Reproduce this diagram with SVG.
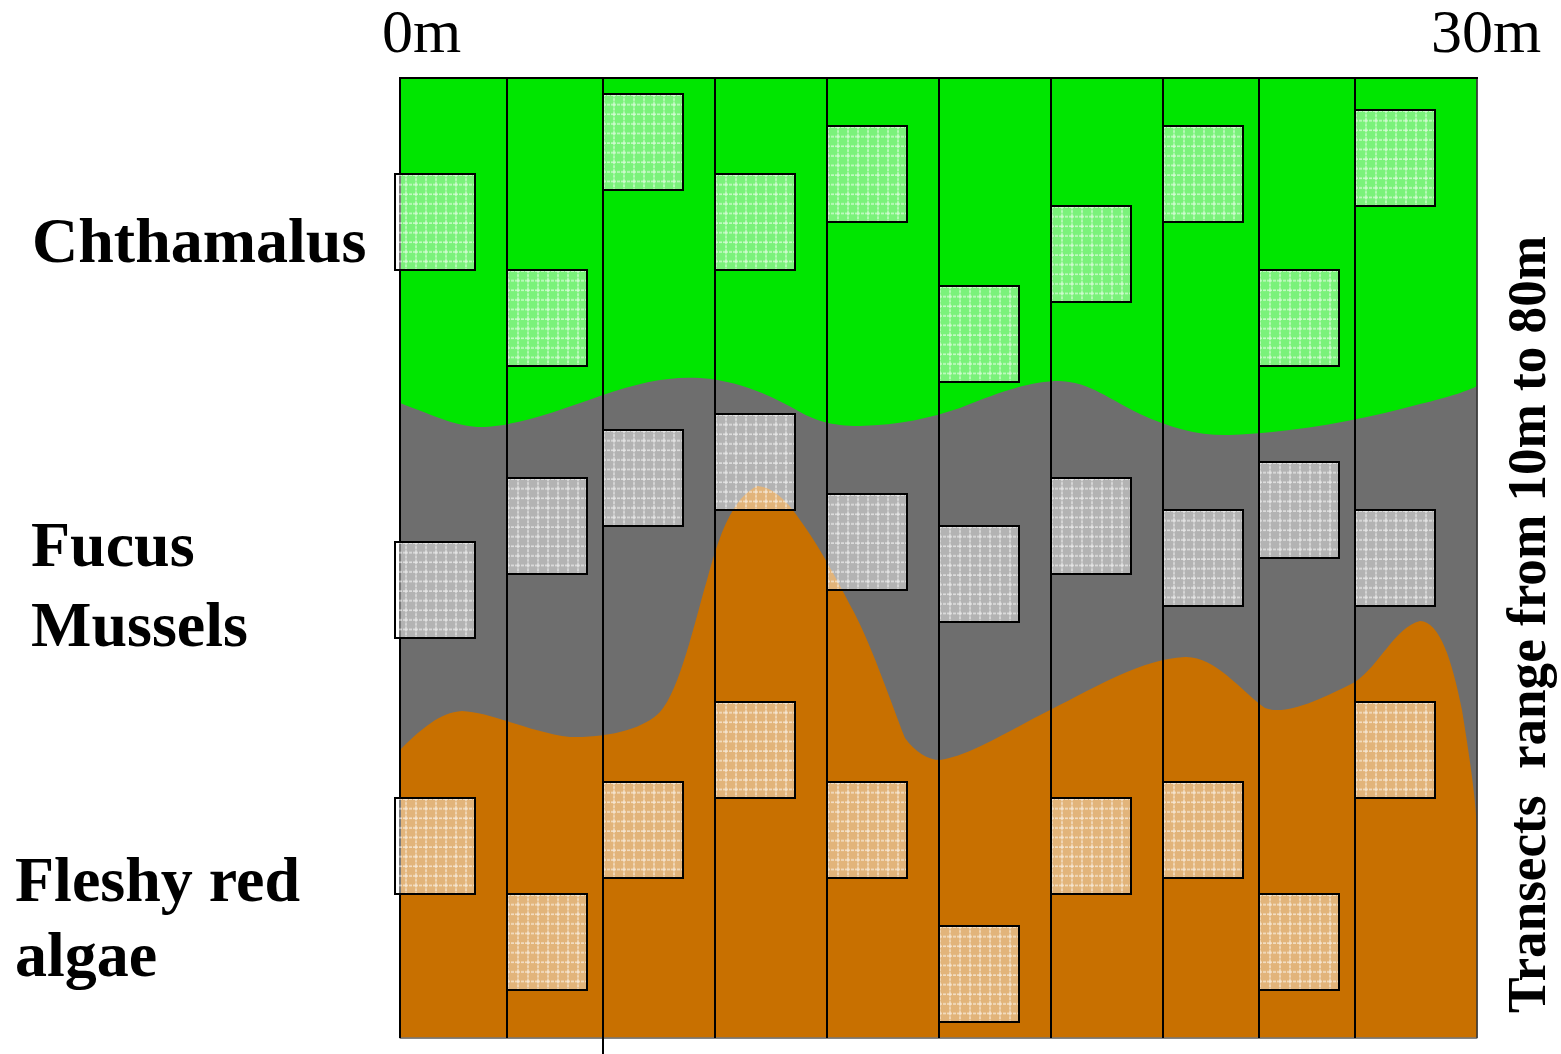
<svg xmlns="http://www.w3.org/2000/svg" width="1561" height="1054" viewBox="0 0 1561 1054">
<style>
.lbl{font-family:"Liberation Serif","Times New Roman",serif;font-weight:bold;font-size:64px;fill:#000}
.scale{font-family:"Liberation Serif","Times New Roman",serif;font-size:62px;fill:#000}
.q{fill:url(#grid);stroke:#000;stroke-width:2}
.tr{stroke:#000;stroke-width:2;fill:none}
</style>
<defs>
<pattern id="grid" patternUnits="objectBoundingBox" width="0.125" height="0.1">
<rect x="0" y="0" width="10" height="9.6" fill="#fff" fill-opacity="0.48"/>
<path d="M1,0 V9.6 M0,1 H10" stroke="#fff" stroke-opacity="0.75" stroke-width="1.2" stroke-dasharray="3 1"/>
</pattern>
</defs>
<rect width="1561" height="1054" fill="#fff"/>
<g id="zones">
<rect x="400" y="78" width="1077" height="960" fill="#00e600" stroke="#555" stroke-width="1"/>
<path id="gray-zone" fill="#6e6e6e" d="M400,403 C440,418 460,428 485,427 C520,425 560,410 600,396 C640,382 670,376 700,378 C740,381 770,395 800,412 C815,420 830,426 860,426 C900,425 930,418 960,408 C1000,392 1030,381 1060,381 C1090,382 1110,400 1140,414 C1170,428 1200,436 1230,435 C1300,432 1360,420 1420,404 C1450,397 1470,390 1477,386 L1477,1038 L400,1038 Z"/>
<path id="orange-zone" fill="#c87000" d="M400,750 C420,730 440,712 462,711 C490,712 530,732 570,737 C610,738 645,728 660,712 C680,690 695,620 707,580 C718,540 730,500 757,486 C775,487 790,505 800,520 C815,540 835,575 850,605 C870,640 890,700 905,738 C915,752 928,760 940,760 C970,756 1010,730 1050,710 C1100,685 1140,660 1185,657 C1215,656 1240,690 1265,708 C1285,716 1320,700 1355,682 C1380,665 1395,627 1420,621 C1440,622 1452,660 1462,710 C1470,760 1476,800 1477,832 L1477,1038 L400,1038 Z"/>
<line x1="400" y1="1038" x2="1477" y2="1038" stroke="#777" stroke-width="1.5"/>
<line x1="1477" y1="78" x2="1477" y2="1038" stroke="#333" stroke-width="1.5"/>
</g>
<g id="connectors">
<line class="tr" x1="399" y1="78" x2="1478" y2="78"/>
<line class="tr" x1="400" y1="78" x2="400" y2="1038"/>
<line class="tr" x1="507" y1="78" x2="507" y2="1038"/>
<line class="tr" x1="603" y1="78" x2="603" y2="1054"/>
<line class="tr" x1="715" y1="78" x2="715" y2="1038"/>
<line class="tr" x1="827" y1="78" x2="827" y2="1038"/>
<line class="tr" x1="939" y1="78" x2="939" y2="1038"/>
<line class="tr" x1="1051" y1="78" x2="1051" y2="1038"/>
<line class="tr" x1="1163" y1="78" x2="1163" y2="1038"/>
<line class="tr" x1="1259" y1="78" x2="1259" y2="1038"/>
<line class="tr" x1="1355" y1="78" x2="1355" y2="1038"/>
</g>
<g id="quadrats-chthamalus">
<g id="qc1"><rect class="q" x="395" y="174" width="80" height="96"/></g>
<g id="qc2"><rect class="q" x="507" y="270" width="80" height="96"/></g>
<g id="qc3"><rect class="q" x="603" y="94" width="80" height="96"/></g>
<g id="qc4"><rect class="q" x="715" y="174" width="80" height="96"/></g>
<g id="qc5"><rect class="q" x="827" y="126" width="80" height="96"/></g>
<g id="qc6"><rect class="q" x="939" y="286" width="80" height="96"/></g>
<g id="qc7"><rect class="q" x="1051" y="206" width="80" height="96"/></g>
<g id="qc8"><rect class="q" x="1163" y="126" width="80" height="96"/></g>
<g id="qc9"><rect class="q" x="1259" y="270" width="80" height="96"/></g>
<g id="qc10"><rect class="q" x="1355" y="110" width="80" height="96"/></g>
</g>
<g id="quadrats-fucus">
<g id="qf1"><rect class="q" x="395" y="542" width="80" height="96"/></g>
<g id="qf2"><rect class="q" x="507" y="478" width="80" height="96"/></g>
<g id="qf3"><rect class="q" x="603" y="430" width="80" height="96"/></g>
<g id="qf4"><rect class="q" x="715" y="414" width="80" height="96"/></g>
<g id="qf5"><rect class="q" x="827" y="494" width="80" height="96"/></g>
<g id="qf6"><rect class="q" x="939" y="526" width="80" height="96"/></g>
<g id="qf7"><rect class="q" x="1051" y="478" width="80" height="96"/></g>
<g id="qf8"><rect class="q" x="1163" y="510" width="80" height="96"/></g>
<g id="qf9"><rect class="q" x="1259" y="462" width="80" height="96"/></g>
<g id="qf10"><rect class="q" x="1355" y="510" width="80" height="96"/></g>
</g>
<g id="quadrats-algae">
<g id="qa1"><rect class="q" x="395" y="798" width="80" height="96"/></g>
<g id="qa2"><rect class="q" x="507" y="894" width="80" height="96"/></g>
<g id="qa3"><rect class="q" x="603" y="782" width="80" height="96"/></g>
<g id="qa4"><rect class="q" x="715" y="702" width="80" height="96"/></g>
<g id="qa5"><rect class="q" x="827" y="782" width="80" height="96"/></g>
<g id="qa6"><rect class="q" x="939" y="926" width="80" height="96"/></g>
<g id="qa7"><rect class="q" x="1051" y="798" width="80" height="96"/></g>
<g id="qa8"><rect class="q" x="1163" y="782" width="80" height="96"/></g>
<g id="qa9"><rect class="q" x="1259" y="894" width="80" height="96"/></g>
<g id="qa10"><rect class="q" x="1355" y="702" width="80" height="96"/></g>
</g>
<g id="labels">
<text class="scale" x="382" y="52">0m</text>
<text class="scale" x="1431" y="52">30m</text>
<text class="lbl" x="32" y="262">Chthamalus</text>
<text class="lbl" x="31" y="566">Fucus</text>
<text class="lbl" x="31" y="646">Mussels</text>
<text class="lbl" x="15" y="901">Fleshy red</text>
<text class="lbl" x="15" y="976">algae</text>
<text class="lbl" style="font-size:55px" transform="translate(1545,1013) rotate(-90)" x="0" y="0" textLength="777" lengthAdjust="spacingAndGlyphs" xml:space="preserve">Transects  range from 10m to 80m</text>
</g>
</svg>
